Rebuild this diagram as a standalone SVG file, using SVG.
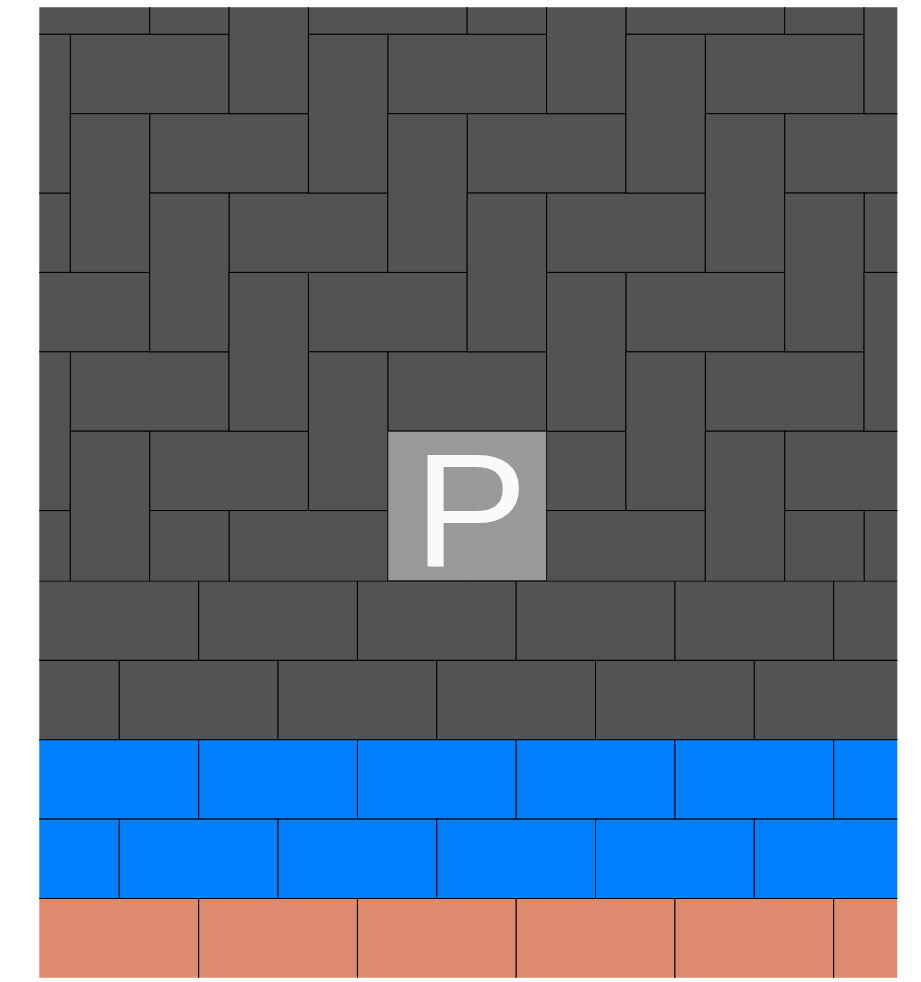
<svg xmlns="http://www.w3.org/2000/svg" width="921" height="982" viewBox="0 0 921 982">
<style>
.b{stroke:#000;stroke-width:1}
.hb{fill:#535353}
.gr{fill:#535353}
.bl{fill:#0080ff}
.or{fill:#de8a6f}
.H{width:158.75px;height:79.375px}
.V{width:79.375px;height:158.75px}
.sign{fill:#999999;stroke:#1a1a1a;stroke-width:1}
.ptxt{font-family:"Liberation Sans",Arial,sans-serif;font-size:161px;fill:#fafafa}
</style>
<defs>
<clipPath id="clipHB"><rect x="39.3" y="7.3" width="858" height="573.7"/></clipPath>
<clipPath id="clipRB"><rect x="39.3" y="580.4" width="858" height="397.3"/></clipPath>
</defs>
<rect width="921" height="982" fill="#fff"/>
<g id="herringbone" clip-path="url(#clipHB)">
<g class="b hb">
<!-- horizontal bricks -->
<rect x="-9.08" y="-45.08" width="158.75" height="79.375"/>
<rect x="308.43" y="-45.08" width="158.75" height="79.375"/>
<rect x="625.93" y="-45.08" width="158.75" height="79.375"/>
<rect x="70.3" y="34.3" width="158.75" height="79.375"/>
<rect x="387.8" y="34.3" width="158.75" height="79.375"/>
<rect x="705.3" y="34.3" width="158.75" height="79.375"/>
<rect x="149.68" y="113.68" width="158.75" height="79.375"/>
<rect x="467.18" y="113.68" width="158.75" height="79.375"/>
<rect x="784.68" y="113.68" width="158.75" height="79.375"/>
<rect x="-88.45" y="193.05" width="158.75" height="79.375"/>
<rect x="229.05" y="193.05" width="158.75" height="79.375"/>
<rect x="546.55" y="193.05" width="158.75" height="79.375"/>
<rect x="864.05" y="193.05" width="158.75" height="79.375"/>
<rect x="-9.08" y="272.43" width="158.75" height="79.375"/>
<rect x="308.43" y="272.43" width="158.75" height="79.375"/>
<rect x="625.93" y="272.43" width="158.75" height="79.375"/>
<rect x="70.3" y="351.8" width="158.75" height="79.375"/>
<rect x="387.8" y="351.8" width="158.75" height="79.375"/>
<rect x="705.3" y="351.8" width="158.75" height="79.375"/>
<rect x="149.68" y="431.18" width="158.75" height="79.375"/>
<rect x="467.18" y="431.18" width="158.75" height="79.375"/>
<rect x="784.68" y="431.18" width="158.75" height="79.375"/>
<rect x="-88.45" y="510.55" width="158.75" height="79.375"/>
<rect x="229.05" y="510.55" width="158.75" height="79.375"/>
<rect x="546.55" y="510.55" width="158.75" height="79.375"/>
<rect x="864.05" y="510.55" width="158.75" height="79.375"/>
<!-- vertical bricks -->
<rect x="149.68" y="-124.45" width="79.375" height="158.75"/>
<rect x="467.18" y="-124.45" width="79.375" height="158.75"/>
<rect x="784.68" y="-124.45" width="79.375" height="158.75"/>
<rect x="229.05" y="-45.08" width="79.375" height="158.75"/>
<rect x="546.55" y="-45.08" width="79.375" height="158.75"/>
<rect x="864.05" y="-45.08" width="79.375" height="158.75"/>
<rect x="-9.08" y="34.3" width="79.375" height="158.75"/>
<rect x="308.43" y="34.3" width="79.375" height="158.75"/>
<rect x="625.93" y="34.3" width="79.375" height="158.75"/>
<rect x="70.3" y="113.68" width="79.375" height="158.75"/>
<rect x="387.8" y="113.68" width="79.375" height="158.75"/>
<rect x="705.3" y="113.68" width="79.375" height="158.75"/>
<rect x="149.68" y="193.05" width="79.375" height="158.75"/>
<rect x="467.18" y="193.05" width="79.375" height="158.75"/>
<rect x="784.68" y="193.05" width="79.375" height="158.75"/>
<rect x="229.05" y="272.43" width="79.375" height="158.75"/>
<rect x="546.55" y="272.43" width="79.375" height="158.75"/>
<rect x="864.05" y="272.43" width="79.375" height="158.75"/>
<rect x="-9.08" y="351.8" width="79.375" height="158.75"/>
<rect x="308.43" y="351.8" width="79.375" height="158.75"/>
<rect x="625.93" y="351.8" width="79.375" height="158.75"/>
<rect x="70.3" y="431.18" width="79.375" height="158.75"/>
<rect x="387.8" y="431.18" width="79.375" height="158.75"/>
<rect x="705.3" y="431.18" width="79.375" height="158.75"/>
<rect x="149.68" y="510.55" width="79.375" height="158.75"/>
<rect x="467.18" y="510.55" width="79.375" height="158.75"/>
<rect x="784.68" y="510.55" width="79.375" height="158.75"/>
</g>
</g>
<g id="running-bond" clip-path="url(#clipRB)">
<g id="row-1" class="b gr">
<rect x="-100" y="581" width="298.7" height="79.375"/>
<rect x="198.7" y="581" width="158.75" height="79.375"/>
<rect x="357.45" y="581" width="158.75" height="79.375"/>
<rect x="516.2" y="581" width="158.75" height="79.375"/>
<rect x="674.95" y="581" width="158.75" height="79.375"/>
<rect x="833.7" y="581" width="158.75" height="79.375"/>
</g>
<g id="row-2" class="b gr">
<rect x="-39.45" y="660.375" width="158.75" height="79.375"/>
<rect x="119.3" y="660.375" width="158.75" height="79.375"/>
<rect x="278.05" y="660.375" width="158.75" height="79.375"/>
<rect x="436.8" y="660.375" width="158.75" height="79.375"/>
<rect x="595.55" y="660.375" width="158.75" height="79.375"/>
<rect x="754.3" y="660.375" width="158.75" height="79.375"/>
</g>
<g id="row-3" class="b bl">
<rect x="-100" y="739.75" width="298.7" height="79.375"/>
<rect x="198.7" y="739.75" width="158.75" height="79.375"/>
<rect x="357.45" y="739.75" width="158.75" height="79.375"/>
<rect x="516.2" y="739.75" width="158.75" height="79.375"/>
<rect x="674.95" y="739.75" width="158.75" height="79.375"/>
<rect x="833.7" y="739.75" width="158.75" height="79.375"/>
</g>
<g id="row-4" class="b bl">
<rect x="-39.45" y="819.125" width="158.75" height="79.375"/>
<rect x="119.3" y="819.125" width="158.75" height="79.375"/>
<rect x="278.05" y="819.125" width="158.75" height="79.375"/>
<rect x="436.8" y="819.125" width="158.75" height="79.375"/>
<rect x="595.55" y="819.125" width="158.75" height="79.375"/>
<rect x="754.3" y="819.125" width="158.75" height="79.375"/>
</g>
<g id="row-5" class="b or">
<rect x="-100" y="898.5" width="298.7" height="120"/>
<rect x="198.7" y="898.5" width="158.75" height="120"/>
<rect x="357.45" y="898.5" width="158.75" height="120"/>
<rect x="516.2" y="898.5" width="158.75" height="120"/>
<rect x="674.95" y="898.5" width="158.75" height="120"/>
<rect x="833.7" y="898.5" width="158.75" height="120"/>
</g>
</g>
<g id="parking-sign">
<rect class="sign" x="387.8" y="431.18" width="158.75" height="149.6"/>
<text class="ptxt" transform="translate(413.5,566) scale(1.066,1)" x="0" y="0">P</text>
</g>
</svg>
